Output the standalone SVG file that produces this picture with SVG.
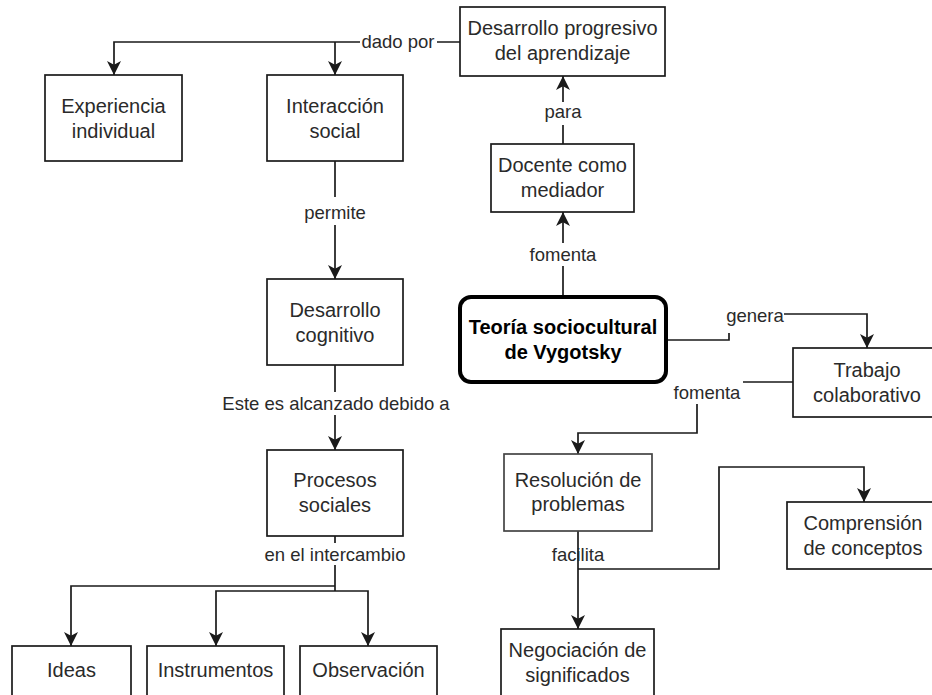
<svg xmlns="http://www.w3.org/2000/svg" width="932" height="695" viewBox="0 0 932 695">
<defs>
<style>
.n{fill:#fff;stroke:#1a1a1a;stroke-width:1.7}
.t{font-family:"Liberation Sans",Arial,sans-serif;font-size:20px;fill:#2a2a2a;text-anchor:middle}
.b{font-weight:bold;fill:#000}
.l{font-family:"Liberation Sans",Arial,sans-serif;font-size:18.5px;fill:#2a2a2a;text-anchor:middle}
.c{fill:none;stroke:#1a1a1a;stroke-width:1.7}
.bg{fill:#fff;stroke:none}
</style>
<marker id="ar" markerUnits="userSpaceOnUse" markerWidth="14" markerHeight="14" refX="13" refY="6.5" orient="auto" viewBox="0 0 13 13">
<path d="M0,0 L13,6.5 L0,13 L3.5,6.5 Z" fill="#1a1a1a"/>
</marker>
</defs>
<rect width="932" height="695" fill="#fff"/>
<g id="connectors">
<path class="c" d="M460,42 L114,42 L114,75" marker-end="url(#ar)"/>
<path class="c" d="M335,42 L335,75" marker-end="url(#ar)"/>
<path class="c" d="M563,144 L563,76" marker-end="url(#ar)"/>
<path class="c" d="M563,297 L563,212" marker-end="url(#ar)"/>
<path class="c" d="M335,161 L335,279" marker-end="url(#ar)"/>
<path class="c" d="M335,365 L335,450" marker-end="url(#ar)"/>
<path class="c" d="M335,536 L335,591"/>
<path class="c" d="M335,586 L71,586 L71,646" marker-end="url(#ar)"/>
<path class="c" d="M335,591 L216,591 L216,646" marker-end="url(#ar)"/>
<path class="c" d="M335,591 L368,591 L368,646" marker-end="url(#ar)"/>
<path class="c" d="M666,340 L729,340 L729,314 L867,314 L867,348" marker-end="url(#ar)"/>
<path class="c" d="M793,382 L697,382 L697,433 L578,433 L578,454" marker-end="url(#ar)"/>
<path class="c" d="M578,531 L578,629" marker-end="url(#ar)"/>
<path class="c" d="M578,569 L719,569 L719,467 L864,467 L864,502" marker-end="url(#ar)"/>
<rect class="bg" x="360" y="32" width="77" height="20"/>
<text class="l" x="398" y="48">dado por</text>
<rect class="bg" x="544" y="102" width="38" height="23"/>
<text class="l" x="563" y="118">para</text>
<rect class="bg" x="528" y="243" width="70" height="23"/>
<text class="l" x="563" y="261">fomenta</text>
<rect class="bg" x="300" y="197" width="70" height="28"/>
<text class="l" x="335" y="219">permite</text>
<rect class="bg" x="220" y="392" width="232" height="23"/>
<text class="l" x="336" y="410">Este es alcanzado debido a</text>
<rect class="bg" x="262" y="543" width="146" height="22"/>
<text class="l" x="335" y="561">en el intercambio</text>
<rect class="bg" x="724" y="303" width="60" height="30"/>
<text class="l" x="755" y="322">genera</text>
<rect class="bg" x="671" y="380" width="72" height="24"/>
<text class="l" x="707" y="399">fomenta</text>
<text class="l" x="578" y="561">facilita</text>
</g>
<g id="n-progresivo"><rect class="n" x="460" y="7" width="205" height="69"/><text class="t" x="562.5" y="35">Desarrollo progresivo</text><text class="t" x="562.5" y="60">del aprendizaje</text></g>
<g id="n-experiencia"><rect class="n" x="45" y="75" width="137" height="86"/><text class="t" x="113.5" y="113">Experiencia</text><text class="t" x="113.5" y="138">individual</text></g>
<g id="n-interaccion"><rect class="n" x="267" y="75" width="136" height="86"/><text class="t" x="335" y="113">Interacción</text><text class="t" x="335" y="138">social</text></g>
<g id="n-docente"><rect class="n" x="491" y="144" width="143" height="68"/><text class="t" x="562.5" y="172">Docente como</text><text class="t" x="562.5" y="197">mediador</text></g>
<g id="n-teoria"><rect class="n" x="460" y="297" width="206" height="85" rx="11" ry="11" style="stroke:#000;stroke-width:4"/><text class="t b" x="563" y="334">Teoría sociocultural</text><text class="t b" x="563" y="359">de Vygotsky</text></g>
<g id="n-cognitivo"><rect class="n" x="267" y="279" width="136" height="86"/><text class="t" x="335" y="317">Desarrollo</text><text class="t" x="335" y="342">cognitivo</text></g>
<g id="n-trabajo"><rect class="n" x="793" y="348" width="148" height="69"/><text class="t" x="867" y="377">Trabajo</text><text class="t" x="867" y="402">colaborativo</text></g>
<g id="n-procesos"><rect class="n" x="267" y="450" width="136" height="86"/><text class="t" x="335" y="487">Procesos</text><text class="t" x="335" y="512">sociales</text></g>
<g id="n-resolucion"><rect class="n" x="504" y="454" width="148" height="77" style="stroke:#444"/><text class="t" x="578" y="487">Resolución de</text><text class="t" x="578" y="511">problemas</text></g>
<g id="n-comprension"><rect class="n" x="787" y="502" width="152" height="67"/><text class="t" x="863" y="530">Comprensión</text><text class="t" x="863" y="555">de conceptos</text></g>
<g id="n-negociacion"><rect class="n" x="501" y="629" width="153" height="80"/><text class="t" x="577.5" y="657">Negociación de</text><text class="t" x="577.5" y="682">significados</text></g>
<g id="n-ideas"><rect class="n" x="12" y="646" width="119" height="60"/><text class="t" x="71.5" y="677">Ideas</text></g>
<g id="n-instrumentos"><rect class="n" x="147" y="646" width="137" height="60"/><text class="t" x="215.5" y="677">Instrumentos</text></g>
<g id="n-observacion"><rect class="n" x="300" y="646" width="137" height="60"/><text class="t" x="368.5" y="677">Observación</text></g>
</svg>
